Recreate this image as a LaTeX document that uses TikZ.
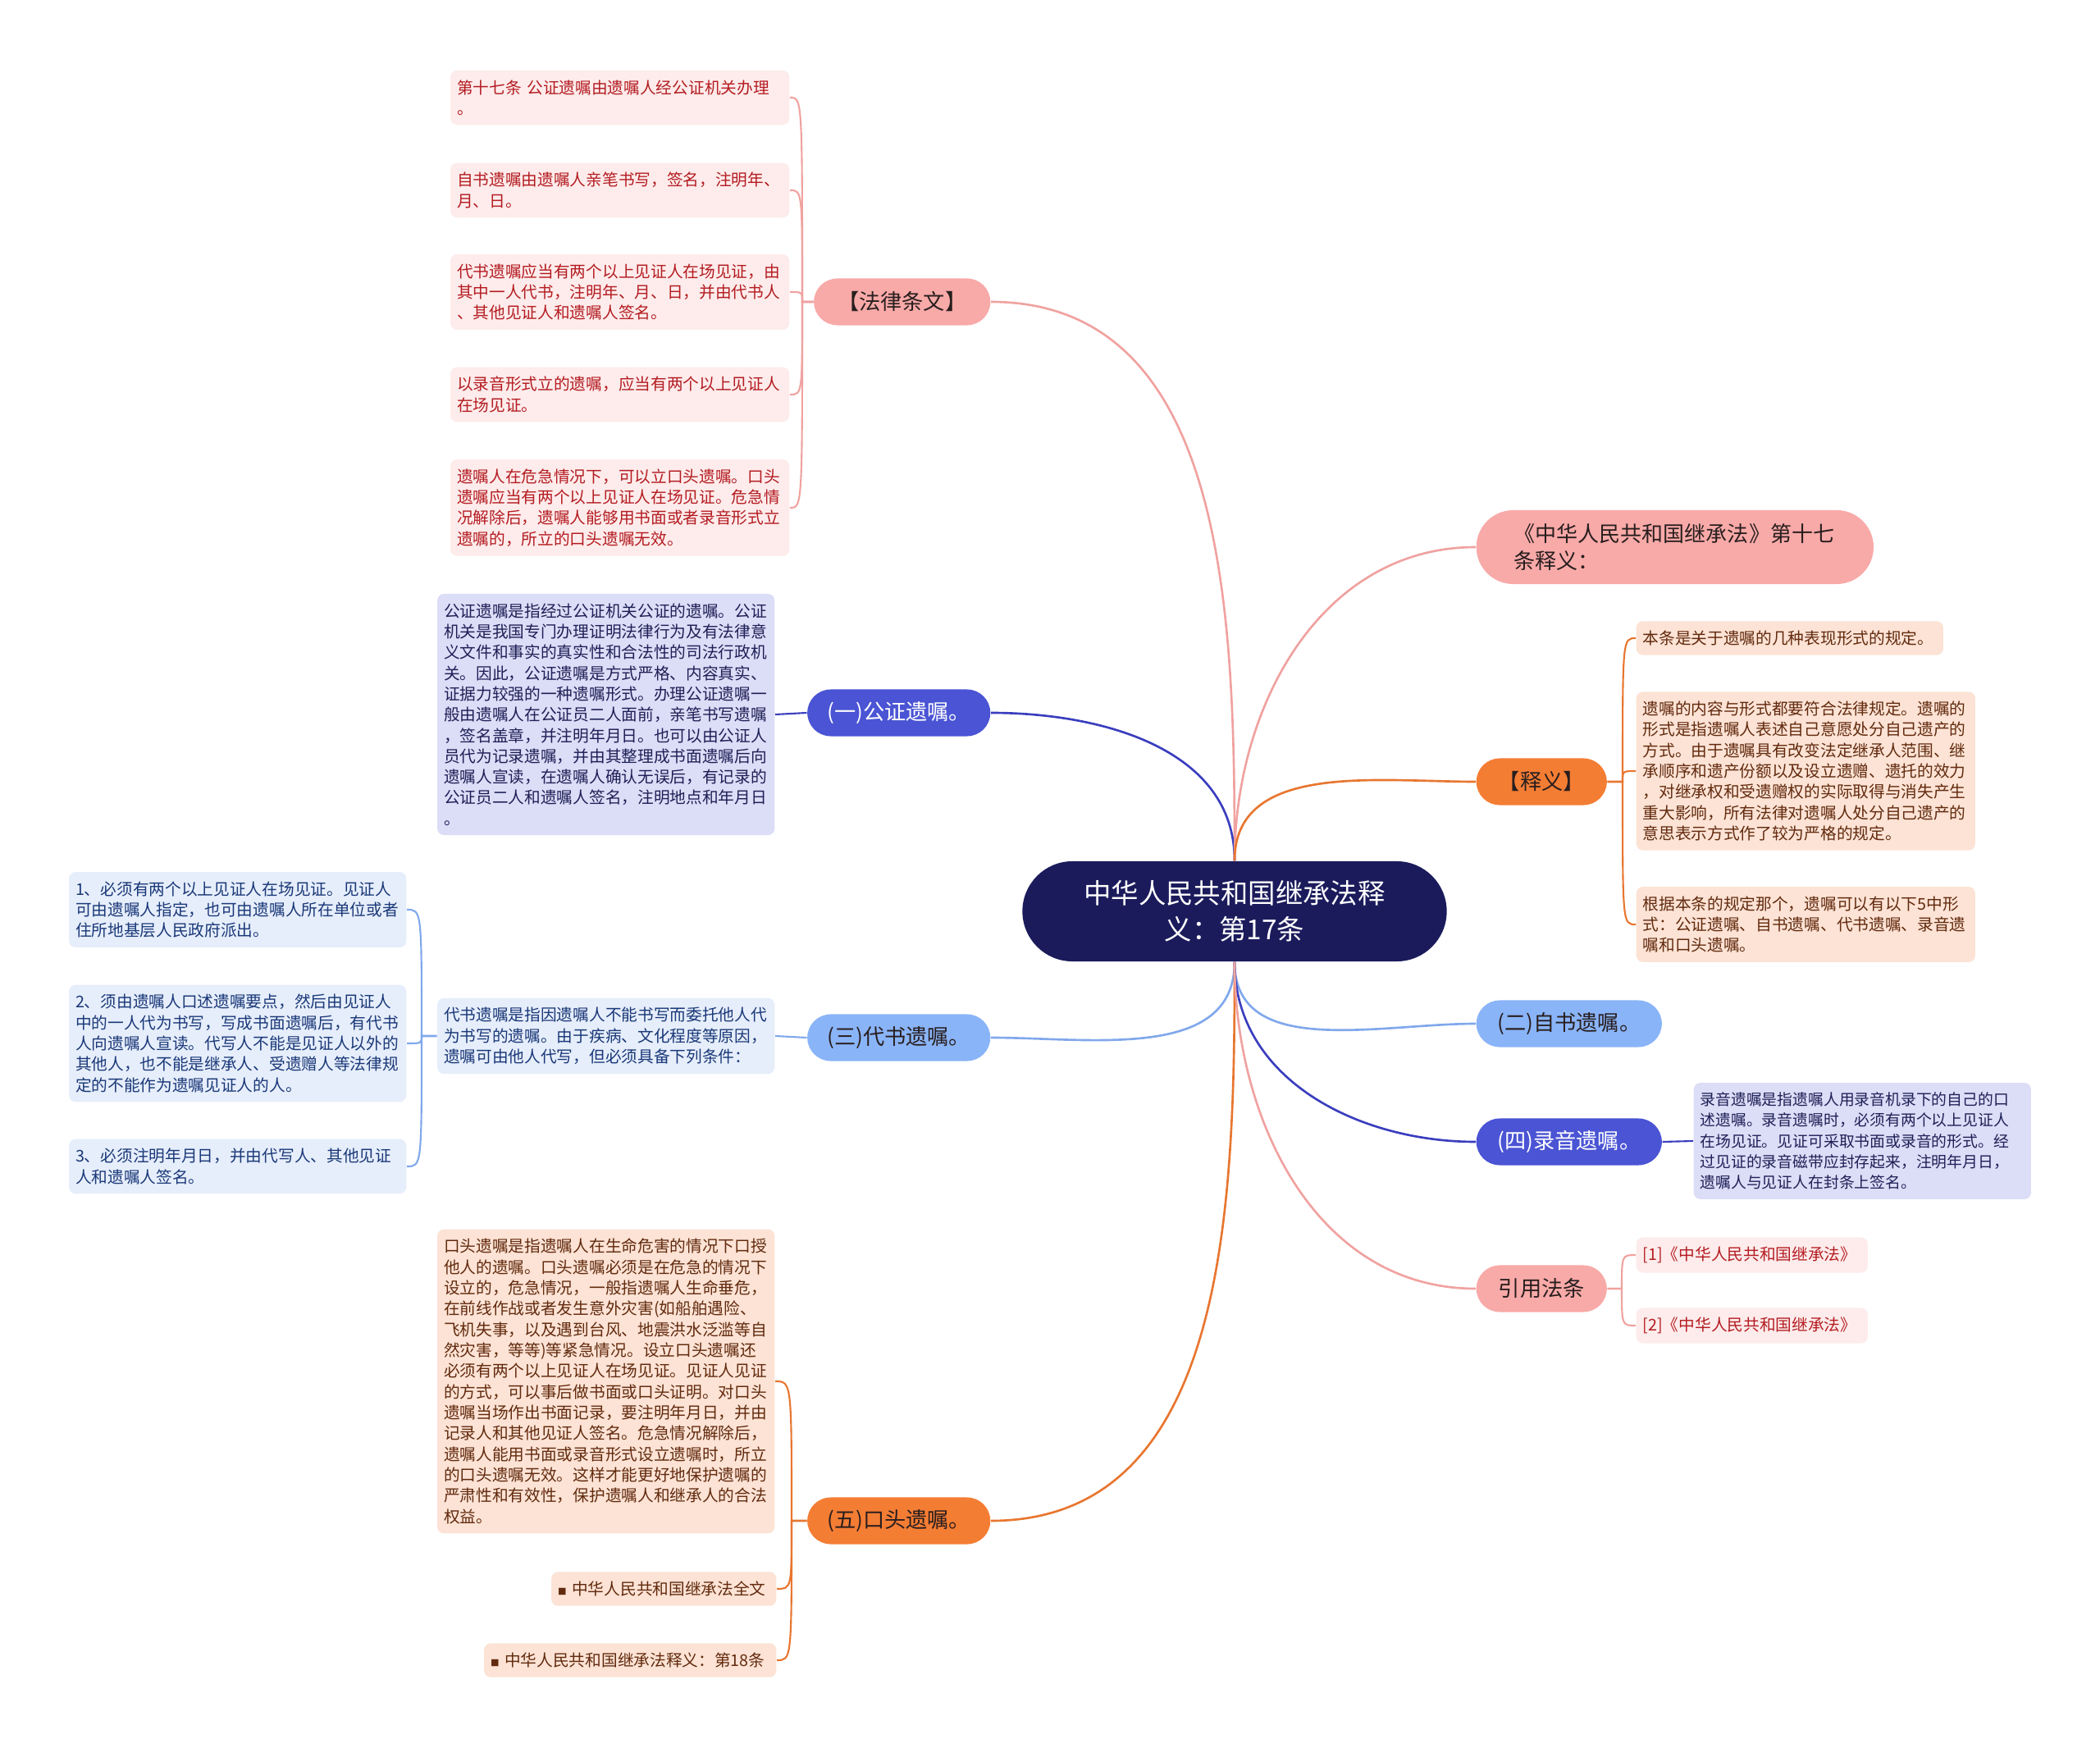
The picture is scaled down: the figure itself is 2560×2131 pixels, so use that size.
\documentclass[tikz,border=0pt]{standalone}
\usepackage{fontspec}
\setmainfont{Noto Sans CJK SC}
\usetikzlibrary{positioning,calc}
\definecolor{RootNavy}{RGB}{27,27,92}
\definecolor{BranchPink}{RGB}{248,170,168}
\definecolor{BranchPurple}{RGB}{74,84,212}
\definecolor{BranchBlue}{RGB}{138,180,248}
\definecolor{BranchOrange}{RGB}{244,125,52}
\definecolor{LinePink}{RGB}{240,162,160}
\definecolor{LinePurple}{RGB}{58,62,190}
\definecolor{LineBlue}{RGB}{128,168,236}
\definecolor{LineOrange}{RGB}{232,118,48}
\definecolor{LeafPink}{RGB}{253,236,235}
\definecolor{LeafPurple}{RGB}{220,221,247}
\definecolor{LeafBlue}{RGB}{230,238,251}
\definecolor{LeafOrange}{RGB}{252,227,213}
\definecolor{TextRed}{RGB}{180,28,34}
\definecolor{TextNavy}{RGB}{30,32,86}
\definecolor{TextBlue}{RGB}{26,56,120}
\definecolor{TextBrown}{RGB}{98,42,14}
\definecolor{TextDark}{RGB}{40,30,30}
\newcommand{\leaffont}{\fontsize{5.6}{7.2}\selectfont}
\newcommand{\sqbullet}{{\fontsize{3}{3}\selectfont ■}\ }

\begin{document}
\begin{tikzpicture}[x=0.01cm,y=-0.01cm,
    pill/.style={rounded corners=0.285cm,minimum height=0.57cm,inner sep=0pt,
      font=\fontsize{7.45}{9.5}\selectfont},
    leaf/.style={rounded corners=2.3pt,inner xsep=0.08cm,inner ysep=0.115cm,
      align=left,font=\leaffont,text width=#1},
    redleaf/.style={leaf=#1,fill=LeafPink,text=TextRed},
    purpleleaf/.style={leaf=#1,fill=LeafPurple,text=TextNavy},
    blueleaf/.style={leaf=#1,fill=LeafBlue,text=TextBlue},
    orangeleaf/.style={leaf=#1,fill=LeafOrange,text=TextBrown},
    link/.style={line width=0.75pt},
    twig/.style={line width=0.6pt}]
  \fill[white] (0,0) rectangle (2560,2131);
  \useasboundingbox (0,0) rectangle (2560,2131);

  \node[pill,fill=RootNavy,text=white,minimum width=5.17cm,minimum height=1.22cm,
    rounded corners=0.61cm,align=center,font=\fontsize{9.5}{12.5}\selectfont]
    (root) at (1505,1111) {中华人民共和国继承法释\\义：第17条};

  % left branches
  \node[pill,fill=BranchPink,text=TextDark,minimum width=2.15cm,anchor=east]
    (law) at (1208,368) {【法律条文】};
  \node[pill,fill=BranchPurple,text=white,minimum width=2.23cm,anchor=east]
    (notary) at (1208,869) {(一)公证遗嘱。};
  \node[pill,fill=BranchBlue,text=TextDark,minimum width=2.23cm,anchor=east]
    (proxy) at (1208,1265) {(三)代书遗嘱。};
  \node[pill,fill=BranchOrange,text=TextDark,minimum width=2.23cm,anchor=east]
    (oral) at (1208,1854) {(五)口头遗嘱。};

  % right branches
  \node[pill,fill=BranchPink,text=TextDark,anchor=west,minimum width=4.84cm,
    minimum height=0.9cm,rounded corners=0.45cm,align=left,text width=3.92cm,
    inner xsep=0.46cm,font=\fontsize{7.4}{9.3}\selectfont]
    (title) at (1799,667) {《中华人民共和国继承法》第十七\\条释义：};
  \node[pill,fill=BranchOrange,text=TextDark,minimum width=1.59cm,anchor=west]
    (expl) at (1799,953) {【释义】};
  \node[pill,fill=BranchBlue,text=TextDark,minimum width=2.26cm,anchor=west]
    (holo) at (1799,1248) {(二)自书遗嘱。};
  \node[pill,fill=BranchPurple,text=white,minimum width=2.26cm,anchor=west]
    (audio) at (1799,1392) {(四)录音遗嘱。};
  \node[pill,fill=BranchPink,text=TextDark,minimum width=1.59cm,anchor=west]
    (cite) at (1799,1571) {引用法条};

  \draw[link,LinePink] (root.north) to[out=90,in=0] (law.east);
  \draw[link,LinePurple] (root.north) to[out=90,in=0] (notary.east);
  \draw[link,LinePink] (root.north) to[out=90,in=180] (title.west);
  \draw[link,LineOrange] (root.north) to[out=90,in=180] (expl.west);
  \draw[link,LineBlue] (root.south) to[out=-90,in=0] (proxy.east);
  \draw[link,LineOrange] (root.south) to[out=-90,in=0] (oral.east);
  \draw[link,LineBlue] (root.south) to[out=-90,in=180] (holo.west);
  \draw[link,LinePurple] (root.south) to[out=-90,in=180] (audio.west);
  \draw[link,LinePink] (root.south) to[out=-90,in=180] (cite.west);

  % 法律条文
  \node[redleaf=3.97cm,anchor=east] (law1) at (963,119)
    {第十七条 公证遗嘱由遗嘱人经公证机关办理\\。};
  \node[redleaf=3.97cm,anchor=east] (law2) at (963,232)
    {自书遗嘱由遗嘱人亲笔书写，签名，注明年、\\月、日。};
  \node[redleaf=3.97cm,anchor=east] (law3) at (963,356)
    {代书遗嘱应当有两个以上见证人在场见证，由\\其中一人代书，注明年、月、日，并由代书人\\、其他见证人和遗嘱人签名。};
  \node[redleaf=3.97cm,anchor=east] (law4) at (963,481)
    {以录音形式立的遗嘱，应当有两个以上见证人\\在场见证。};
  \node[redleaf=3.97cm,anchor=east] (law5) at (963,619)
    {遗嘱人在危急情况下，可以立口头遗嘱。口头\\遗嘱应当有两个以上见证人在场见证。危急情\\况解除后，遗嘱人能够用书面或者录音形式立\\遗嘱的，所立的口头遗嘱无效。};
  \coordinate (lawfork) at (978,368);
  \foreach \i in {1,...,5}
    \draw[twig,LinePink] (law.west) -- (lawfork) .. controls (lawfork|-law\i.east) .. (law\i.east);

  % (一)
  \node[purpleleaf=3.95cm,anchor=east] (notary1) at (945,871)
    {公证遗嘱是指经过公证机关公证的遗嘱。公证\\机关是我国专门办理证明法律行为及有法律意\\义文件和事实的真实性和合法性的司法行政机\\关。因此，公证遗嘱是方式严格、内容真实、\\证据力较强的一种遗嘱形式。办理公证遗嘱一\\般由遗嘱人在公证员二人面前，亲笔书写遗嘱\\，签名盖章，并注明年月日。也可以由公证人\\员代为记录遗嘱，并由其整理成书面遗嘱后向\\遗嘱人宣读，在遗嘱人确认无误后，有记录的\\公证员二人和遗嘱人签名，注明地点和年月日\\。};
  \draw[twig,LinePurple] (notary.west) -- (notary1.east);

  % (三)
  \node[blueleaf=3.95cm,anchor=east] (proxy1) at (945,1263)
    {代书遗嘱是指因遗嘱人不能书写而委托他人代\\为书写的遗嘱。由于疾病、文化程度等原因，\\遗嘱可由他人代写，但必须具备下列条件：};
  \draw[twig,LineBlue] (proxy.west) -- (proxy1.east);
  \node[blueleaf=3.95cm,anchor=east] (cond1) at (496,1109)
    {1、必须有两个以上见证人在场见证。见证人\\可由遗嘱人指定，也可由遗嘱人所在单位或者\\住所地基层人民政府派出。};
  \node[blueleaf=3.95cm,anchor=east] (cond2) at (496,1272)
    {2、须由遗嘱人口述遗嘱要点，然后由见证人\\中的一人代为书写，写成书面遗嘱后，有代书\\人向遗嘱人宣读。代写人不能是见证人以外的\\其他人，也不能是继承人、受遗赠人等法律规\\定的不能作为遗嘱见证人的人。};
  \node[blueleaf=3.95cm,anchor=east] (cond3) at (496,1422)
    {3、必须注明年月日，并由代写人、其他见证\\人和遗嘱人签名。};
  \coordinate (proxyfork) at (514,1263);
  \foreach \i in {1,2,3}
    \draw[twig,LineBlue] (proxy1.west) -- (proxyfork) .. controls (proxyfork|-cond\i.east) .. (cond\i.east);

  % (五)
  \node[orangeleaf=3.95cm,anchor=east] (oral1) at (945,1684)
    {口头遗嘱是指遗嘱人在生命危害的情况下口授\\他人的遗嘱。口头遗嘱必须是在危急的情况下\\设立的，危急情况，一般指遗嘱人生命垂危，\\在前线作战或者发生意外灾害(如船舶遇险、\\飞机失事，以及遇到台风、地震洪水泛滥等自\\然灾害，等等)等紧急情况。设立口头遗嘱还\\必须有两个以上见证人在场见证。见证人见证\\的方式，可以事后做书面或口头证明。对口头\\遗嘱当场作出书面记录，要注明年月日，并由\\记录人和其他见证人签名。危急情况解除后，\\遗嘱人能用书面或录音形式设立遗嘱时，所立\\的口头遗嘱无效。这样才能更好地保护遗嘱的\\严肃性和有效性，保护遗嘱人和继承人的合法\\权益。};
  \node[orangeleaf=2.58cm,anchor=east] (oral2) at (947,1937)
    {\sqbullet 中华人民共和国继承法全文};
  \node[orangeleaf=3.40cm,anchor=east] (oral3) at (947,2024)
    {\sqbullet 中华人民共和国继承法释义：第18条};
  \coordinate (oralfork) at (965,1854);
  \foreach \i in {1,2,3}
    \draw[twig,LineOrange] (oral.west) -- (oralfork) .. controls (oralfork|-oral\i.east) .. (oral\i.east);

  % 【释义】
  \node[orangeleaf=3.58cm,anchor=west] (expl1) at (1994,778)
    {本条是关于遗嘱的几种表现形式的规定。};
  \node[orangeleaf=3.97cm,anchor=west] (expl2) at (1994,940)
    {遗嘱的内容与形式都要符合法律规定。遗嘱的\\形式是指遗嘱人表述自己意愿处分自己遗产的\\方式。由于遗嘱具有改变法定继承人范围、继\\承顺序和遗产份额以及设立遗赠、遗托的效力\\，对继承权和受遗赠权的实际取得与消失产生\\重大影响，所有法律对遗嘱人处分自己遗产的\\意思表示方式作了较为严格的规定。};
  \node[orangeleaf=3.97cm,anchor=west] (expl3) at (1994,1127)
    {根据本条的规定那个，遗嘱可以有以下5中形\\式：公证遗嘱、自书遗嘱、代书遗嘱、录音遗\\嘱和口头遗嘱。};
  \coordinate (explfork) at (1978,953);
  \foreach \i in {1,2,3}
    \draw[twig,LineOrange] (expl.east) -- (explfork) .. controls (explfork|-expl\i.west) .. (expl\i.west);

  % (四)
  \node[purpleleaf=3.95cm,anchor=west,font=\fontsize{5.35}{7.2}\selectfont] (audio1) at (2064,1391)
    {录音遗嘱是指遗嘱人用录音机录下的自己的口\\述遗嘱。录音遗嘱时，必须有两个以上见证人\\在场见证。见证可采取书面或录音的形式。经\\过见证的录音磁带应封存起来，注明年月日，\\遗嘱人与见证人在封条上签名。};
  \draw[twig,LinePurple] (audio.east) -- (audio1.west);

  % 引用法条
  \node[redleaf=2.66cm,anchor=west] (cite1) at (1994,1530)
    {[1]《中华人民共和国继承法》};
  \node[redleaf=2.66cm,anchor=west] (cite2) at (1994,1616)
    {[2]《中华人民共和国继承法》};
  \coordinate (citefork) at (1977,1571);
  \foreach \i in {1,2}
    \draw[twig,LinePink] (cite.east) -- (citefork) .. controls (citefork|-cite\i.west) .. (cite\i.west);
\end{tikzpicture}
\end{document}
